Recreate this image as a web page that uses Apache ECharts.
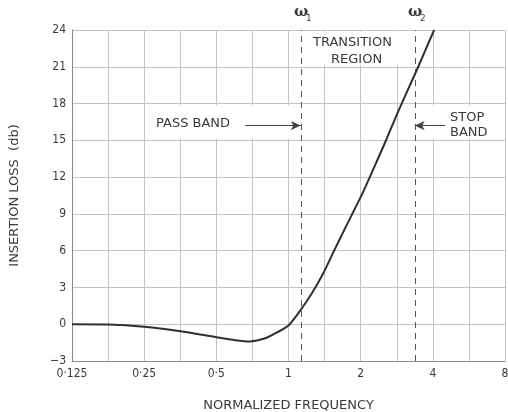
<!DOCTYPE html>
<html>
<head>
<meta charset="utf-8">
<script src="https://cdn.jsdelivr.net/npm/echarts@6/dist/echarts.min.js"></script>
<style>
  html, body { margin: 0; padding: 0; background: #fff; }
  #chart { width: 508px; height: 412px; }
</style>
</head>
<body>
<div id="chart"></div>
<script>
  // normalized frequency and insertion loss in db
  var freq = [0.125, 0.177, 0.25, 0.354, 0.5, 0.6, 0.69, 0.8, 0.9, 1.0, 1.1, 1.25, 1.4, 1.55, 1.75, 1.9, 2.06, 2.5, 2.89, 3.44, 4.05]
  var loss = [0, -0.02, -0.2, -0.57, -1.06, -1.3, -1.4, -1.15, -0.65, -0.1, 0.9, 2.5, 4.2, 6.0, 8.1, 9.5, 10.9, 14.6, 17.5, 20.8, 24]
  var xTickLabels = ['0·125', '0·25', '0·5', '1', '2', '4', '8']
  var omega1 = 1.125
  var omega2 = 3.36

  var textColor = '#3a3a34'
  var gridColor = '#c4c4c0'
  var log2 = function (v) { return Math.log(v) / Math.LN2 }

  var chart = echarts.init(document.getElementById('chart'))
  var curve = freq.map(function (f, i) { return [log2(f), loss[i]] })
  var labelFont = '13px DejaVu Sans'

  var option = {
    animation: false,
    grid: { left: 72, right: 3, top: 30, bottom: 51, outerBoundsMode: 'none' },
    xAxis: {
      type: 'value',
      min: -3,
      max: 3,
      interval: 0.5,
      name: 'NORMALIZED FREQUENCY',
      nameLocation: 'middle',
      nameGap: 38,
      nameTextStyle: { color: textColor, fontSize: 13, fontFamily: 'DejaVu Sans' },
      axisLine: { onZero: false, lineStyle: { color: '#8a8a84', width: 1 } },
      axisTick: { show: false },
      axisLabel: {
        color: textColor, fontSize: 12, fontFamily: 'DejaVu Sans Condensed', margin: 7,
        formatter: function (v) {
          if (Math.abs(v - Math.round(v)) > 1e-6) return ''
          return xTickLabels[Math.round(v) + 3]
        }
      },
      splitLine: { show: true, lineStyle: { color: gridColor, width: 1 } }
    },
    yAxis: {
      type: 'value',
      min: -3,
      max: 24,
      interval: 3,
      name: 'INSERTION LOSS  (db)',
      nameLocation: 'middle',
      nameGap: 51,
      nameTextStyle: { color: textColor, fontSize: 13, fontFamily: 'DejaVu Sans' },
      axisLine: { show: true, onZero: false, lineStyle: { color: '#8a8a84', width: 1 } },
      axisTick: { show: false },
      axisLabel: {
        color: textColor, fontSize: 12, fontFamily: 'DejaVu Sans Condensed', margin: 6,
        formatter: function (v) { return String(v).replace('-', '−') }
      },
      splitLine: { show: true, lineStyle: { color: gridColor, width: 1 } }
    },
    series: [
      {
        // white boxes behind the labels
        type: 'line',
        data: [],
        silent: true,
        markArea: {
          silent: true,
          itemStyle: { color: '#fff' },
          data: [
            [{ coord: [-1.92, 15.15] }, { coord: [log2(omega1), 17.85] }],
            [{ coord: [log2(omega2), 15.15] }, { coord: [3, 17.85] }],
            [{ coord: [log2(omega1), 21.15] }, { coord: [log2(omega2), 23.85] }]
          ]
        }
      },
      {
        type: 'line',
        data: curve,
        smooth: 0.25,
        showSymbol: false,
        lineStyle: { color: '#2f2f2c', width: 2 },
        z: 5,
        markLine: {
          silent: true,
          symbol: ['none', 'none'],
          label: { show: false },
          lineStyle: { color: '#555', type: [6, 5], width: 1 },
          data: [
            { xAxis: log2(omega1) },
            { xAxis: log2(omega2) },
            [{ coord: [-0.6, 16.2], symbol: 'none' }, { coord: [log2(omega1), 16.2], symbol: 'arrow', symbolSize: [7, 10], lineStyle: { type: 'solid', color: '#444' } }],
            [{ coord: [2.17, 16.2], symbol: 'none' }, { coord: [log2(omega2), 16.2], symbol: 'arrow', symbolSize: [7, 10], lineStyle: { type: 'solid', color: '#444' } }]
          ]
        }
      }
    ],
    graphic: [
      { type: 'text', z: 100, left: 294, top: 5, style: { text: 'ω', fill: textColor, font: 'bold 15px DejaVu Serif' } },
      { type: 'text', z: 100, left: 306, top: 14, style: { text: '1', fill: textColor, font: '9px DejaVu Sans' } },
      { type: 'text', z: 100, left: 408, top: 5, style: { text: 'ω', fill: textColor, font: 'bold 15px DejaVu Serif' } },
      { type: 'text', z: 100, left: 420, top: 14, style: { text: '2', fill: textColor, font: '9px DejaVu Sans' } },
      { type: 'text', z: 100, left: 313, top: 36, style: { text: 'TRANSITION', fill: textColor, font: labelFont } },
      { type: 'text', z: 100, left: 331, top: 53, style: { text: 'REGION', fill: textColor, font: labelFont } },
      { type: 'text', z: 100, left: 156, top: 117, style: { text: 'PASS BAND', fill: textColor, font: labelFont } },
      { type: 'text', z: 100, left: 450, top: 111, style: { text: 'STOP', fill: textColor, font: labelFont } },
      { type: 'text', z: 100, left: 450, top: 126, style: { text: 'BAND', fill: textColor, font: labelFont } }
    ]
  }
  chart.setOption(option)
</script>
</body>
</html>
